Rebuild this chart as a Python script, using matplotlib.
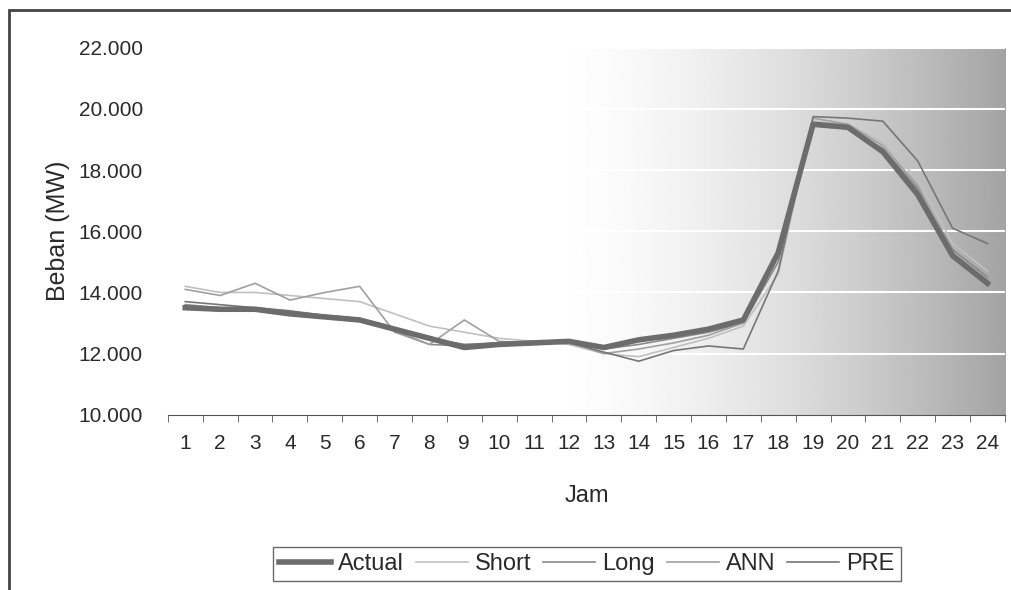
import matplotlib
matplotlib.use("Agg")
import matplotlib.pyplot as plt
import numpy as np
from matplotlib.patches import Rectangle
from matplotlib.ticker import FuncFormatter, MultipleLocator

plt.rcParams['font.family'] = ['Liberation Sans', 'DejaVu Sans']

# hourly load (MW)
hours = list(range(1, 25))
actual = [13500, 13450, 13450, 13300, 13200, 13100, 12800, 12500, 12200, 12300, 12350, 12400,
          12200, 12450, 12600, 12800, 13100, 15300, 19500, 19400, 18600, 17200, 15200, 14300]
short = [14200, 14000, 14000, 13900, 13800, 13700, 13300, 12900, 12700, 12500, 12400, 12300,
         12000, 11900, 12200, 12500, 12900, 14600, 19600, 19500, 18900, 17700, 15600, 14700]
long_ = [13600, 13500, 13400, 13300, 13200, 13100, 12750, 12300, 12250, 12350, 12300, 12450,
         12150, 12300, 12500, 12700, 13000, 15000, 19450, 19350, 18700, 17400, 15400, 14500]
ann = [14100, 13900, 14300, 13750, 14000, 14200, 12700, 12300, 13100, 12400, 12350, 12400,
       12000, 12150, 12350, 12600, 13000, 15200, 19700, 19500, 18800, 17500, 15300, 14400]
pre = [13700, 13600, 13500, 13400, 13250, 13150, 12800, 12500, 12300, 12350, 12400, 12350,
       12050, 11750, 12100, 12250, 12150, 14700, 19750, 19700, 19600, 18300, 16100, 15600]

fig = plt.figure(figsize=(10.11, 5.9), dpi=100)
ax = fig.add_axes([0.166, 0.297, 0.828, 0.622])

# white -> grey horizontal gradient behind the plot
cols = np.linspace(0, 1, 400)
t = np.clip((cols - 0.45) / 0.55, 0, 1) ** 1.6
shade = 1 - 0.36 * t
ax.imshow(shade[np.newaxis, :], cmap='gray', vmin=0, vmax=1, aspect='auto',
          extent=(0.5, 24.5, 10000, 22000), zorder=0)

for y in range(12000, 22001, 2000):
    ax.axhline(y, color='white', lw=1.5, zorder=1)

ax.plot(hours, short, color='#c0c0c0', lw=1.2, zorder=2, label='Short')
ax.plot(hours, long_, color='#8a8a8a', lw=1.2, zorder=2, label='Long')
ax.plot(hours, ann, color='#a0a0a0', lw=1.2, zorder=2, label='ANN')
ax.plot(hours, pre, color='#767676', lw=1.2, zorder=2, label='PRE')
ax.plot(hours, actual, color='#6c6c6c', lw=4, zorder=3, label='Actual')

ax.set_xlim(0.5, 24.5)
ax.set_ylim(10000, 22000)
ax.set_xticks(hours)
ax.xaxis.set_minor_locator(MultipleLocator(1, offset=0.5))
ax.tick_params(axis='x', which='major', length=0, pad=14, labelsize=15, colors='#2a2a2a')
ax.tick_params(axis='x', which='minor', length=5, color='#555555', direction='out')
ax.yaxis.set_major_locator(MultipleLocator(2000))
ax.yaxis.set_major_formatter(FuncFormatter(lambda v, p: f"{int(v):,}".replace(',', '.')))
ax.tick_params(axis='y', length=0, pad=18, labelsize=15, colors='#2a2a2a')
for s in ['top', 'right', 'left']:
    ax.spines[s].set_visible(False)
ax.spines['bottom'].set_color('#555555')

ax.set_xlabel('Jam', fontsize=17, color='#2a2a2a', labelpad=23)
ax.set_ylabel('Beban (MW)', fontsize=18, color='#2a2a2a', labelpad=6)

handles, labels = ax.get_legend_handles_labels()
order = [4, 0, 1, 2, 3]
leg = fig.legend([handles[i] for i in order], [labels[i] for i in order],
                 loc='center', bbox_to_anchor=(587 / 1011, 1 - 564 / 590), ncol=5,
                 fontsize=17, frameon=True, fancybox=False, handlelength=2.2,
                 columnspacing=0.5, handletextpad=0.3, borderpad=0.25)
leg.get_frame().set_edgecolor('#444444')
leg.get_frame().set_linewidth(1)
for txt in leg.get_texts():
    txt.set_color('#2a2a2a')

# outer chart border of the scan
fig.patches.append(Rectangle((0.009, -0.02), 1.0, 1 - 10 / 590 + 0.02,
                             transform=fig.transFigure, fill=False,
                             edgecolor='#444444', lw=2))

fig.savefig('out.png', dpi=100)
